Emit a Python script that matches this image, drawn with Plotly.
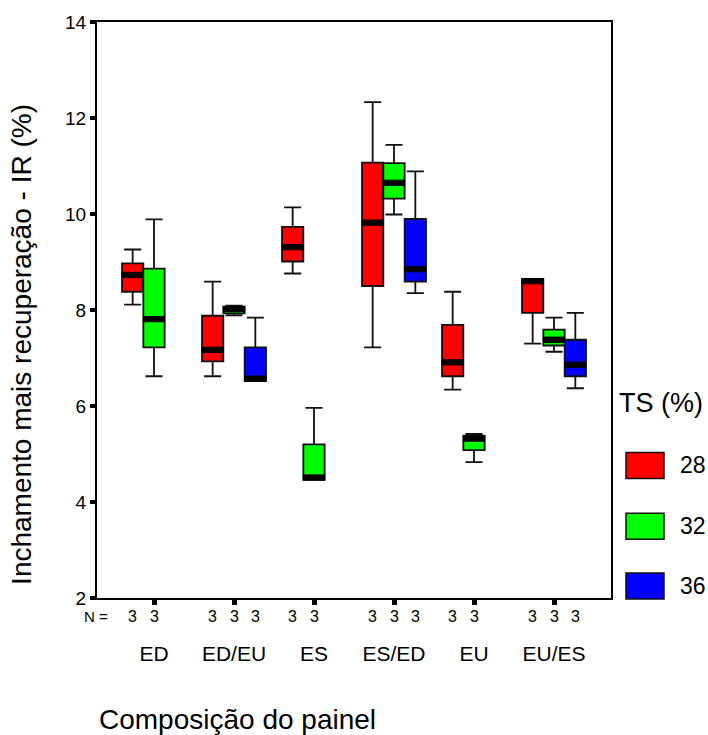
import plotly.graph_objects as go

# ---------------- data ----------------
categories = ["ED", "ED/EU", "ES", "ES/ED", "EU", "EU/ES"]
ts_levels = ["28", "32", "36"]

lower_28 = [8.11, 6.62, 8.76, 7.22, 6.34, 7.30]
q1_28 = [8.38, 6.93, 9.01, 8.50, 6.62, 7.94]
median_28 = [8.73, 7.17, 9.31, 9.82, 6.91, 8.60]
q3_28 = [8.97, 7.88, 9.73, 11.07, 7.69, 8.65]
upper_28 = [9.26, 8.59, 10.14, 12.33, 8.38, 8.65]
n_28 = [3, 3, 3, 3, 3, 3]

lower_32 = [6.62, 7.89, 4.46, 9.99, 4.83, 7.13]
q1_32 = [7.22, 7.93, 4.46, 10.32, 5.08, 7.26]
median_32 = [7.81, 8.02, 4.51, 10.65, 5.32, 7.38]
q3_32 = [8.86, 8.07, 5.20, 11.06, 5.38, 7.59]
upper_32 = [9.89, 8.09, 5.96, 11.44, 5.42, 7.84]
n_32 = [3, 3, 3, 3, 3, 3]

lower_36 = [None, 6.52, None, 8.35, None, 6.37]
q1_36 = [None, 6.52, None, 8.59, None, 6.62]
median_36 = [None, 6.57, None, 8.85, None, 6.86]
q3_36 = [None, 7.22, None, 9.90, None, 7.38]
upper_36 = [None, 7.84, None, 10.89, None, 7.94]
n_36 = [None, 3, None, 3, None, 3]

y_ticks = [2, 4, 6, 8, 10, 12, 14]

# ---------------- styling ----------------
colors = {"28": "#ff0000", "32": "#00ff00", "36": "#0000ff"}
FONT = "Liberation Sans, Arial, sans-serif"
BOXGAP = 0.2
MED_HALF = 0.055  # half thickness of the median band (data units)

series = {
    "28": (lower_28, q1_28, median_28, q3_28, upper_28, n_28),
    "32": (lower_32, q1_32, median_32, q3_32, upper_32, n_32),
    "36": (lower_36, q1_36, median_36, q3_36, upper_36, n_36),
}

fig = go.Figure()

# boxes
for ts in ts_levels:
    lo, q1, md, q3, up, n = series[ts]
    idx = [i for i in range(len(categories)) if md[i] is not None]
    fig.add_trace(go.Box(
        x=[categories[i] for i in idx],
        lowerfence=[lo[i] for i in idx],
        q1=[q1[i] for i in idx],
        median=[md[i] for i in idx],
        q3=[q3[i] for i in idx],
        upperfence=[up[i] for i in idx],
        name=ts,
        offsetgroup=ts,
        fillcolor=colors[ts],
        line=dict(color="#111111", width=1.8),
        whiskerwidth=0.8,
        boxpoints=False,
        showlegend=False,
        hoverinfo="skip",
    ))

# thick black median bands
for ts in ts_levels:
    lo, q1, md, q3, up, n = series[ts]
    idx = [i for i in range(len(categories)) if md[i] is not None]
    fig.add_trace(go.Box(
        x=[categories[i] for i in idx],
        lowerfence=[md[i] - MED_HALF for i in idx],
        q1=[md[i] - MED_HALF for i in idx],
        median=[md[i] for i in idx],
        q3=[md[i] + MED_HALF for i in idx],
        upperfence=[md[i] + MED_HALF for i in idx],
        name=ts + " median",
        offsetgroup=ts,
        fillcolor="#000000",
        line=dict(color="#000000", width=1),
        whiskerwidth=0,
        boxpoints=False,
        showlegend=False,
        hoverinfo="skip",
    ))

# plot-area geometry in pixels (for paper-coordinate decorations)
W, H = 708, 735
ML, MR, MT, MB = 97, 97, 20, 137
PW, PH = W - ML - MR, H - MT - MB


def px(xp):
    return (xp - ML) / PW


def py(yp):
    return (H - MB - yp) / PH


annotations = []
shapes = []

# N = row
annotations.append(dict(x=px(96), y=py(617), xref="paper", yref="paper",
                        text="N =", showarrow=False, xanchor="center", yanchor="middle",
                        font=dict(family=FONT, size=15, color="black")))
slot = (1 - BOXGAP) / len(ts_levels)
for k, ts in enumerate(ts_levels):
    n = series[ts][5]
    for i, cnt in enumerate(n):
        if cnt is None:
            continue
        annotations.append(dict(x=i + (k - 1) * slot, y=py(617), xref="x", yref="paper",
                                text=str(cnt), showarrow=False, xanchor="center", yanchor="middle",
                                font=dict(family=FONT, size=16, color="black")))

# axis titles
annotations.append(dict(x=px(22), y=py(344), xref="paper", yref="paper",
                        text="Inchamento mais recuperação - IR (%)", textangle=-90,
                        showarrow=False, xanchor="center", yanchor="middle",
                        font=dict(family=FONT, size=28, color="black")))
annotations.append(dict(x=px(97), y=py(720), xref="paper", yref="paper",
                        text="Composição do painel",
                        showarrow=False, xanchor="left", yanchor="middle",
                        font=dict(family=FONT, size=28, color="black")))

# legend (manual)
annotations.append(dict(x=px(617), y=py(402), xref="paper", yref="paper",
                        text="TS (%)", showarrow=False, xanchor="left", yanchor="middle",
                        font=dict(family=FONT, size=27, color="black")))
legend_rows = [465, 526, 586]
for ts, yc in zip(ts_levels, legend_rows):
    shapes.append(dict(type="rect", xref="paper", yref="paper",
                       x0=px(626), x1=px(664), y0=py(yc + 13), y1=py(yc - 13),
                       fillcolor=colors[ts], line=dict(color="#111111", width=1.5)))
    annotations.append(dict(x=px(678), y=py(yc), xref="paper", yref="paper",
                            text=ts, showarrow=False, xanchor="left", yanchor="middle",
                            font=dict(family=FONT, size=23, color="black")))

fig.update_layout(
    width=W, height=H,
    margin=dict(l=ML, r=MR, t=MT, b=MB, pad=0),
    paper_bgcolor="white", plot_bgcolor="white",
    boxmode="group", boxgap=BOXGAP, boxgroupgap=0,
    showlegend=False,
    annotations=annotations,
    shapes=shapes,
    xaxis=dict(
        type="category",
        categoryorder="array", categoryarray=categories,
        range=[-0.7125, len(categories) - 1 + 0.7125],
        showline=True, linecolor="black", linewidth=2, mirror=True,
        ticks="outside", ticklen=5, tickwidth=5, tickcolor="black",
        ticklabelstandoff=31,
        tickfont=dict(family=FONT, size=21, color="black"),
        showgrid=False, zeroline=False,
    ),
    yaxis=dict(
        range=[2, 14],
        tickvals=y_ticks,
        showline=True, linecolor="black", linewidth=2, mirror=True,
        ticks="outside", ticklen=5, tickwidth=4, tickcolor="black",
        tickfont=dict(family=FONT, size=19, color="black"),
        showgrid=False, zeroline=False,
    ),
)

fig.write_html("out.html",
               config={"displayModeBar": False},
               post_script="document.body.style.margin='0';document.body.style.overflow='hidden';")
